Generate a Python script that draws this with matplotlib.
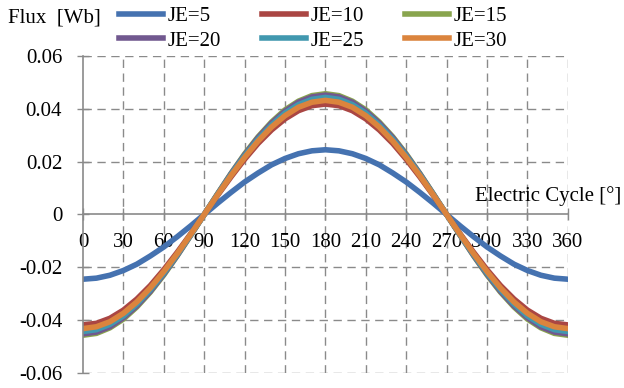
import numpy as np
import matplotlib
matplotlib.use('Agg')
import matplotlib.pyplot as plt

plt.rcParams['font.family'] = ['Liberation Serif', 'DejaVu Serif']

# electric angle (deg), read every 10 deg
angle = list(range(0, 361, 10))

je5 = [-0.0245, -0.0241, -0.0230, -0.0212, -0.0188, -0.0157, -0.0123, -0.0084, -0.0043, 0.0,
       0.0043, 0.0084, 0.0123, 0.0157, 0.0188, 0.0212, 0.0230, 0.0241, 0.0245,
       0.0241, 0.0230, 0.0212, 0.0188, 0.0157, 0.0123, 0.0084, 0.0043, 0.0,
       -0.0043, -0.0084, -0.0123, -0.0157, -0.0188, -0.0212, -0.0230, -0.0241, -0.0245]
je10 = [-0.0418, -0.0412, -0.0393, -0.0362, -0.0320, -0.0269, -0.0209, -0.0143, -0.0073, 0.0,
        0.0073, 0.0143, 0.0209, 0.0269, 0.0320, 0.0362, 0.0393, 0.0412, 0.0418,
        0.0412, 0.0393, 0.0362, 0.0320, 0.0269, 0.0209, 0.0143, 0.0073, 0.0,
        -0.0073, -0.0143, -0.0209, -0.0269, -0.0320, -0.0362, -0.0393, -0.0412, -0.0418]
je15 = [-0.0457, -0.0450, -0.0429, -0.0396, -0.0350, -0.0294, -0.0229, -0.0156, -0.0079, 0.0,
        0.0079, 0.0156, 0.0229, 0.0294, 0.0350, 0.0396, 0.0429, 0.0450, 0.0457,
        0.0450, 0.0429, 0.0396, 0.0350, 0.0294, 0.0229, 0.0156, 0.0079, 0.0,
        -0.0079, -0.0156, -0.0229, -0.0294, -0.0350, -0.0396, -0.0429, -0.0450, -0.0457]
je20 = [-0.0452, -0.0445, -0.0425, -0.0391, -0.0346, -0.0291, -0.0226, -0.0155, -0.0078, 0.0,
        0.0078, 0.0155, 0.0226, 0.0291, 0.0346, 0.0391, 0.0425, 0.0445, 0.0452,
        0.0445, 0.0425, 0.0391, 0.0346, 0.0291, 0.0226, 0.0155, 0.0078, 0.0,
        -0.0078, -0.0155, -0.0226, -0.0291, -0.0346, -0.0391, -0.0425, -0.0445, -0.0452]
je25 = [-0.0443, -0.0436, -0.0416, -0.0384, -0.0339, -0.0285, -0.0222, -0.0152, -0.0077, 0.0,
        0.0077, 0.0152, 0.0222, 0.0285, 0.0339, 0.0384, 0.0416, 0.0436, 0.0443,
        0.0436, 0.0416, 0.0384, 0.0339, 0.0285, 0.0222, 0.0152, 0.0077, 0.0,
        -0.0077, -0.0152, -0.0222, -0.0285, -0.0339, -0.0384, -0.0416, -0.0436, -0.0443]
je30 = [-0.0432, -0.0425, -0.0406, -0.0374, -0.0331, -0.0278, -0.0216, -0.0148, -0.0075, 0.0,
        0.0075, 0.0148, 0.0216, 0.0278, 0.0331, 0.0374, 0.0406, 0.0425, 0.0432,
        0.0425, 0.0406, 0.0374, 0.0331, 0.0278, 0.0216, 0.0148, 0.0075, 0.0,
        -0.0075, -0.0148, -0.0216, -0.0278, -0.0331, -0.0374, -0.0406, -0.0425, -0.0432]

series = [je5, je10, je15, je20, je25, je30]
labels = ['JE=5', 'JE=10', 'JE=15', 'JE=20', 'JE=25', 'JE=30']
colors = ['#4572B0', '#AA4643', '#89A54E', '#71588F', '#4198AF', '#DB843D']

xticks = np.arange(0, 361, 30)
yticks = [-0.06, -0.04, -0.02, 0, 0.02, 0.04, 0.06]
ytick_labels = ['-0.06', '-0.04', '-0.02', '0', '0.02', '0.04', '0.06']

fig = plt.figure(figsize=(6.24, 3.88), dpi=100)
ax = fig.add_axes([0.133, 0.0387, 0.777, 0.817])

lines = []
for y, lab, c in zip(series, labels, colors):
    l, = ax.plot(angle, y, color=c, lw=4.0, label=lab)
    lines.append(l)

ax.set_xlim(0, 360)
ax.set_ylim(-0.06, 0.06)
ax.set_xticks(xticks)
ax.set_yticks(yticks)
ax.set_yticklabels(ytick_labels)

grid_kw = dict(color='#8a8a8a', lw=1.0, ls=(0, (6, 4)))
for v in yticks:
    if v != 0:
        ax.axhline(v, zorder=0, **grid_kw)
for v in xticks[1:]:
    ax.axvline(v, zorder=0, **grid_kw)

for s in ['top', 'right']:
    ax.spines[s].set_visible(False)
ax.spines['bottom'].set_position(('data', 0))
ax.spines['bottom'].set_color('#8a8a8a')
ax.spines['left'].set_color('#8a8a8a')
ax.spines['bottom'].set_linewidth(1.2)
ax.spines['left'].set_linewidth(1.2)
ax.spines['bottom'].set_zorder(0.5)

ax.tick_params(axis='both', colors='#8a8a8a', labelcolor='black', labelsize=15,
               direction='inout', length=8, width=1.0)
ax.tick_params(axis='x', pad=9)
ax.tick_params(axis='y', pad=11)

fig.text(0.013, 0.953, 'Flux  [Wb]', fontsize=15, va='center', ha='left')
fig.text(0.995, 0.495, 'Electric Cycle [°]', fontsize=15, va='center', ha='right')

# legend ordered row-wise: 5 10 15 / 20 25 30
order = [0, 3, 1, 4, 2, 5]
leg = fig.legend([lines[i] for i in order], [labels[i] for i in order],
                 ncol=3, loc='upper left', bbox_to_anchor=(0.178, 1.005),
                 frameon=False, fontsize=15, handlelength=2.1, handletextpad=0.2,
                 columnspacing=2.0, labelspacing=0.25, borderaxespad=0)

fig.savefig('out.png', dpi=100)
